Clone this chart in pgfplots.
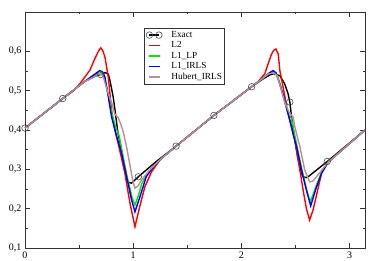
\documentclass[border=0pt]{standalone}
\usepackage{pgfplots}
\pgfplotsset{compat=1.18}
\usepackage{fontspec}
\setmainfont{Liberation Serif}
\definecolor{grgreen}{RGB}{0,230,0}
\definecolor{grbrown}{RGB}{188,143,143}
\begin{document}
\begin{tikzpicture}
\begin{axis}[
  scale only axis, width=340pt, height=236pt,
  xmin=0, xmax=3.1416, ymin=0.1, ymax=0.7,
  xtick={0,1,2,3}, ytick={0.1,0.2,0.3,0.4,0.5,0.6},
  minor x tick num=1, minor y tick num=1,
  tick align=inside, major tick length=5pt, minor tick length=2.5pt,
  axis line style={black!80, line width=0.9pt},
  every tick/.style={black!80, line width=0.7pt},
  /pgf/number format/assume math mode=true,
  tick label style={font=\fontsize{10}{11}\selectfont},
  yticklabel style={/pgf/number format/.cd, fixed, fixed zerofill, precision=1, use comma},
  legend image code/.code={\path[draw=none,fill=none] (-3.5pt,0pt) -- (21pt,0pt); \draw[#1] (0pt,0pt) -- (11pt,0pt);},
  legend style={at={(0.35,0.932)}, anchor=north west, draw=black!80, line width=0.6pt,
    font=\fontsize{9.3}{10}\selectfont, cells={anchor=west}, column sep=0pt,
    inner xsep=1.5pt, inner ysep=1.5pt,
    nodes={inner sep=1pt, text height=6.5pt, text depth=2pt}, row sep=0pt},
]
% Exact line
\addplot[black, line width=1.4pt, forget plot] coordinates {
(0,0.405)(0.349,0.480)(0.55,0.523)(0.65,0.537)(0.698,0.541)(0.74,0.546)(0.77,0.542)
(0.785,0.526)(0.815,0.484)(0.84,0.433)(0.86,0.39)(0.877,0.37)(0.893,0.349)(0.939,0.273)
(0.96,0.266)(0.985,0.265)(1.047,0.281)(1.2,0.317)(1.396,0.359)(1.745,0.437)(2.094,0.510)
(2.2,0.530)(2.262,0.540)(2.30,0.543)(2.355,0.538)(2.40,0.517)(2.431,0.492)(2.447,0.471)
(2.463,0.433)(2.49,0.38)(2.52,0.33)(2.55,0.292)(2.57,0.281)(2.60,0.279)(2.62,0.282)
(2.793,0.320)(3.1416,0.400)};
% Exact markers (legend entry)
\addplot[only marks, mark=o, mark size=3.3pt, mark options={black!70, line width=0.6pt},
  legend image code/.code={\path[draw=none,fill=none] (-3.5pt,0pt) -- (21pt,0pt); \draw[black,line width=1.2pt] (0pt,0pt)--(9.5pt,0pt); \draw[black!70, line width=0.6pt] (0pt,0pt) circle (3.3pt) (9.5pt,0pt) circle (3.3pt);}]
 coordinates {
(0,0.405)(0.349,0.480)(0.698,0.541)(1.047,0.281)(1.396,0.359)(1.745,0.437)(2.094,0.510)(2.447,0.471)(2.793,0.320)};
\addlegendentry{Exact}
% L2
\addplot[red, line width=1.4pt] coordinates {
(0,0.405)(0.349,0.480)(0.45,0.500)(0.508,0.518)(0.60,0.552)(0.646,0.582)(0.68,0.601)(0.70,0.609)
(0.72,0.601)(0.739,0.585)(0.77,0.534)(0.80,0.45)(0.83,0.40)(0.868,0.357)(0.923,0.29)(0.97,0.214)
(1.016,0.154)(1.06,0.205)(1.108,0.256)(1.17,0.294)(1.25,0.325)(1.396,0.359)(1.745,0.437)
(2.094,0.510)(2.15,0.522)(2.216,0.543)(2.246,0.568)(2.278,0.593)(2.30,0.603)(2.318,0.606)(2.34,0.593)
(2.355,0.551)(2.385,0.509)(2.431,0.441)(2.46,0.41)(2.493,0.374)(2.54,0.298)
(2.57,0.247)(2.60,0.20)(2.63,0.171)(2.66,0.195)(2.69,0.23)(2.74,0.29)(2.80,0.318)(3.1416,0.400)};
\addlegendentry{L2}
% L1_LP
\addplot[grgreen, line width=1.4pt] coordinates {
(0,0.405)(0.349,0.480)(0.55,0.523)(0.62,0.536)(0.70,0.546)(0.73,0.540)(0.77,0.49)
(0.80,0.445)(0.84,0.405)(0.87,0.385)(0.90,0.34)(0.945,0.28)(0.99,0.228)(1.016,0.209)
(1.05,0.235)(1.077,0.262)(1.12,0.285)(1.185,0.308)(1.25,0.325)(1.396,0.359)(1.745,0.437)
(2.094,0.510)(2.20,0.532)(2.25,0.543)(2.30,0.547)(2.33,0.540)(2.36,0.515)(2.39,0.482)
(2.43,0.44)(2.463,0.429)(2.49,0.39)(2.52,0.35)(2.55,0.31)(2.58,0.275)(2.61,0.24)(2.635,0.218)
(2.665,0.238)(2.69,0.258)(2.74,0.292)(2.80,0.318)(3.1416,0.400)};
\addlegendentry{L1\_LP}
% L1_IRLS
\addplot[blue, line width=1.4pt] coordinates {
(0,0.405)(0.349,0.480)(0.55,0.523)(0.62,0.537)(0.69,0.551)(0.715,0.548)(0.739,0.534)
(0.77,0.484)(0.80,0.433)(0.846,0.385)(0.862,0.37)(0.893,0.34)(0.939,0.281)(0.985,0.222)
(1.016,0.192)(1.062,0.23)(1.12,0.281)(1.185,0.306)(1.25,0.325)(1.396,0.359)(1.745,0.437)
(2.094,0.510)(2.20,0.532)(2.25,0.544)(2.293,0.551)(2.32,0.545)(2.35,0.52)(2.385,0.490)
(2.447,0.425)(2.477,0.39)(2.51,0.357)(2.555,0.298)(2.60,0.247)
(2.64,0.207)(2.665,0.23)(2.69,0.252)(2.74,0.29)(2.80,0.318)(3.1416,0.400)};
\addlegendentry{L1\_IRLS}
% Hubert_IRLS
\addplot[grbrown, line width=1.4pt] coordinates {
(0,0.405)(0.349,0.480)(0.55,0.523)(0.65,0.537)(0.69,0.543)(0.72,0.538)(0.76,0.50)
(0.80,0.47)(0.83,0.44)(0.86,0.432)(0.885,0.415)(0.908,0.395)(0.94,0.355)(0.97,0.31)
(0.995,0.272)(1.016,0.252)(1.045,0.258)(1.077,0.273)(1.15,0.298)(1.25,0.325)(1.396,0.359)
(1.745,0.437)(2.094,0.510)(2.20,0.532)(2.25,0.543)(2.30,0.545)(2.33,0.538)(2.36,0.51)
(2.40,0.47)(2.44,0.445)(2.477,0.433)(2.493,0.408)(2.54,0.357)(2.585,0.298)
(2.63,0.268)(2.66,0.270)(2.72,0.290)(2.80,0.318)(3.1416,0.400)};
\addlegendentry{Hubert\_IRLS}
\end{axis}
\pgfresetboundingbox
\path ([shift={(-25pt,-13pt)}]current axis.south west) rectangle ([shift={(9pt,12pt)}]current axis.north east);
\end{tikzpicture}
\end{document}
